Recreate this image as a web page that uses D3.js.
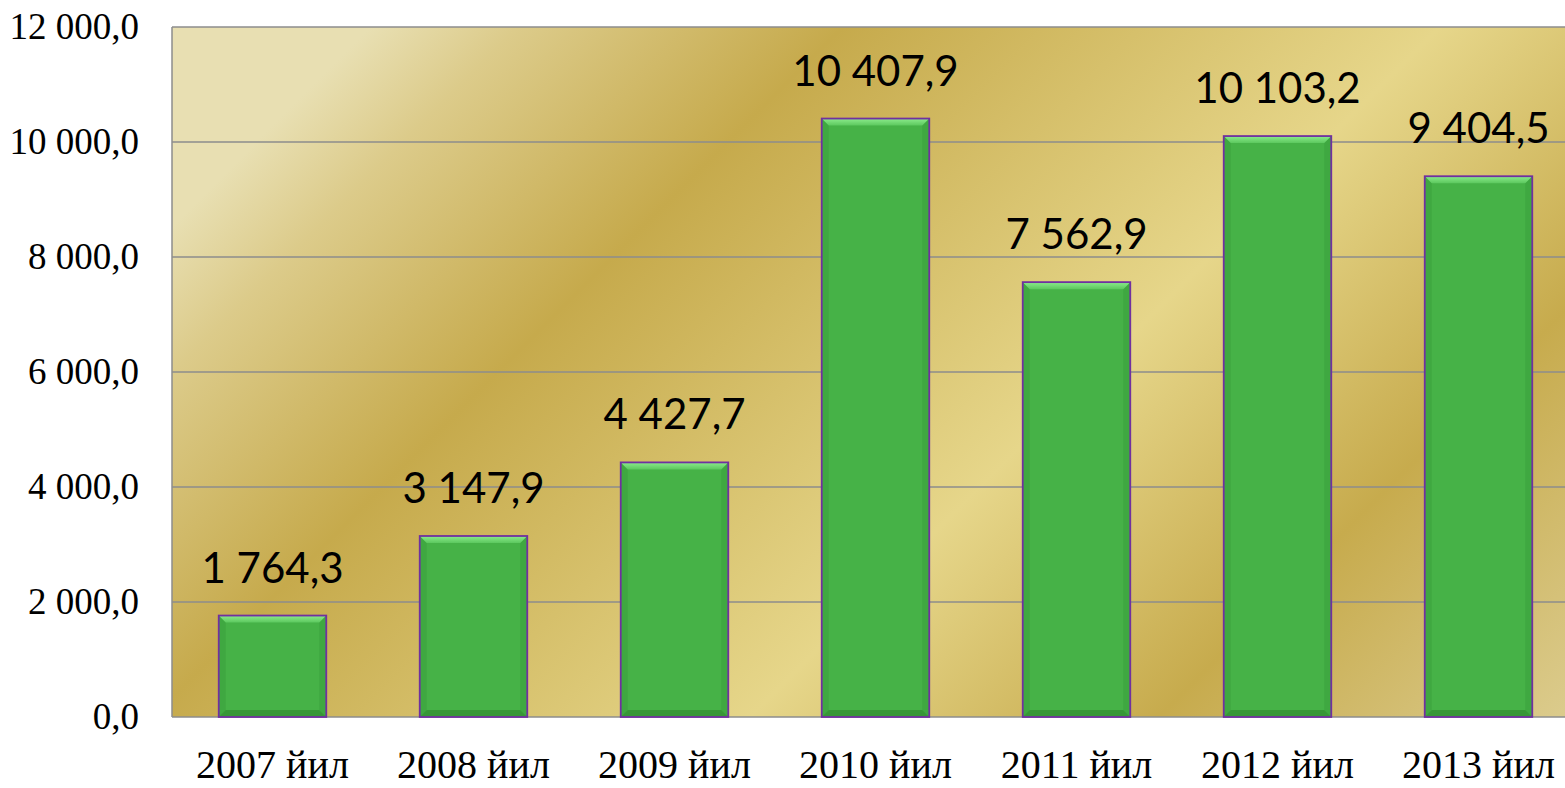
<!DOCTYPE html>
<html>
<head>
<meta charset="utf-8">
<script src="https://cdn.jsdelivr.net/npm/d3@7"></script>
<style>
  body { margin: 0; background: #fff; }
  svg { display: block; }
</style>
</head>
<body>
<div id="chart"></div>
<script>
// Data
let years = ['2007 йил', '2008 йил', '2009 йил', '2010 йил', '2011 йил', '2012 йил', '2013 йил'];
let values = [1764.3, 3147.9, 4427.7, 10407.9, 7562.9, 10103.2, 9404.5];
let yTicks = [0, 2000, 4000, 6000, 8000, 10000, 12000];

// Dimensions
let svgWidth = 1565;
let svgHeight = 788;
let margins = { top: 27, left: 172, bottom: 71 };
let plotWidth = 1407;   // right edge runs past the window
let plotHeight = svgHeight - margins.top - margins.bottom;

// Number format like "10 407,9"
let fmt = v => {
    let s = d3.format(',.1f')(v);
    return s.replace(/,/g, ' ').replace('.', ',');
};

let svg = d3.select('#chart').append('svg')
    .attr('width', svgWidth)
    .attr('height', svgHeight);

// Gold background gradient (roughly 45 degrees)
let defs = svg.append('defs');
let bg = defs.append('linearGradient')
    .attr('id', 'goldBg')
    .attr('gradientUnits', 'userSpaceOnUse')
    .attr('x1', margins.left).attr('y1', margins.top)
    .attr('x2', margins.left + 1048).attr('y2', margins.top + 1048);
[['0%', '#e8dfb2'], ['7%', '#dccb8a'], ['22.5%', '#c6aa4c'], ['51%', '#e6d68a'], ['70.5%', '#c7ab4d'], ['100%', '#e6dcae']]
    .forEach(s => bg.append('stop').attr('offset', s[0]).attr('stop-color', s[1]));

let topBevel = defs.append('linearGradient')
    .attr('id', 'topBevel').attr('x1', 0).attr('y1', 0).attr('x2', 0).attr('y2', 1);
topBevel.append('stop').attr('offset', '0%').attr('stop-color', '#8cec8c');
topBevel.append('stop').attr('offset', '100%').attr('stop-color', '#5cc85e');

let chart = svg.append('g')
    .attr('transform', `translate(${margins.left}, ${margins.top})`);

// Scales
let xScale = d3.scaleBand()
    .domain(years)
    .range([0, plotWidth])
    .paddingInner(0.465)
    .paddingOuter(0.2325);
let yScale = d3.scaleLinear()
    .domain([0, 12000])
    .range([plotHeight, 0]);

// Plot area
chart.append('rect')
    .attr('width', plotWidth)
    .attr('height', plotHeight)
    .attr('fill', 'url(#goldBg)');

// Gridlines
chart.append('g')
    .selectAll('line')
    .data(yTicks)
    .enter().append('line')
    .attr('x1', 0).attr('x2', plotWidth)
    .attr('y1', d => yScale(d)).attr('y2', d => yScale(d))
    .attr('stroke', '#8c8c8c')
    .attr('stroke-width', 1.5);

// Left border
chart.append('line')
    .attr('x1', 0).attr('x2', 0)
    .attr('y1', 0).attr('y2', plotHeight)
    .attr('stroke', '#8c8c8c')
    .attr('stroke-width', 1.5);

// Y axis labels
let yAxis = d3.axisLeft(yScale)
    .tickValues(yTicks)
    .tickFormat(fmt)
    .tickSize(0)
    .tickPadding(33);
let yAxisTag = chart.append('g').call(yAxis);
yAxisTag.select('.domain').remove();
yAxisTag.selectAll('text')
    .attr('font-family', '"Liberation Serif", "Times New Roman", serif')
    .attr('font-size', 37)
    .attr('fill', '#000');

// X axis labels
let xAxis = d3.axisBottom(xScale).tickSize(0).tickPadding(33);
let xAxisTag = chart.append('g')
    .attr('transform', `translate(0, ${plotHeight})`)
    .call(xAxis);
xAxisTag.select('.domain').remove();
xAxisTag.selectAll('text')
    .attr('font-family', '"Liberation Serif", "Times New Roman", serif')
    .attr('font-size', 40)
    .attr('fill', '#000');

// Bars
let bw = xScale.bandwidth();
let b = 7;
let barGroup = chart.selectAll('g.bar')
    .data(years.map((y, i) => ({ year: y, value: values[i] })))
    .enter().append('g')
    .attr('class', 'bar')
    .attr('transform', d => `translate(${xScale(d.year)}, ${yScale(d.value)})`);

barGroup.append('rect')
    .attr('width', bw)
    .attr('height', d => plotHeight - yScale(d.value))
    .attr('fill', '#46b247');

// Bevel edges
barGroup.append('polygon')
    .attr('points', d => {
        let h = plotHeight - yScale(d.value);
        return `0,0 ${b},${b} ${b},${h - b} 0,${h}`;
    })
    .attr('fill', '#3fa841');
barGroup.append('polygon')
    .attr('points', d => {
        let h = plotHeight - yScale(d.value);
        return `${bw},0 ${bw - b},${b} ${bw - b},${h - b} ${bw},${h}`;
    })
    .attr('fill', '#3fa841');
barGroup.append('polygon')
    .attr('points', d => {
        let h = plotHeight - yScale(d.value);
        return `0,${h} ${b},${h - b} ${bw - b},${h - b} ${bw},${h}`;
    })
    .attr('fill', '#379637');
barGroup.append('polygon')
    .attr('points', `0,0 ${bw},0 ${bw - b},${b} ${b},${b}`)
    .attr('fill', 'url(#topBevel)');

barGroup.append('rect')
    .attr('width', bw)
    .attr('height', d => plotHeight - yScale(d.value))
    .attr('fill', 'none')
    .attr('stroke', '#7030a0')
    .attr('stroke-width', 1.8);

// Value labels
barGroup.append('text')
    .text(d => fmt(d.value))
    .attr('x', bw / 2)
    .attr('y', -33)
    .attr('text-anchor', 'middle')
    .attr('font-family', 'Lato, "Noto Sans", sans-serif')
    .attr('font-size', 42)
    .attr('fill', '#000');
</script>
</body>
</html>
